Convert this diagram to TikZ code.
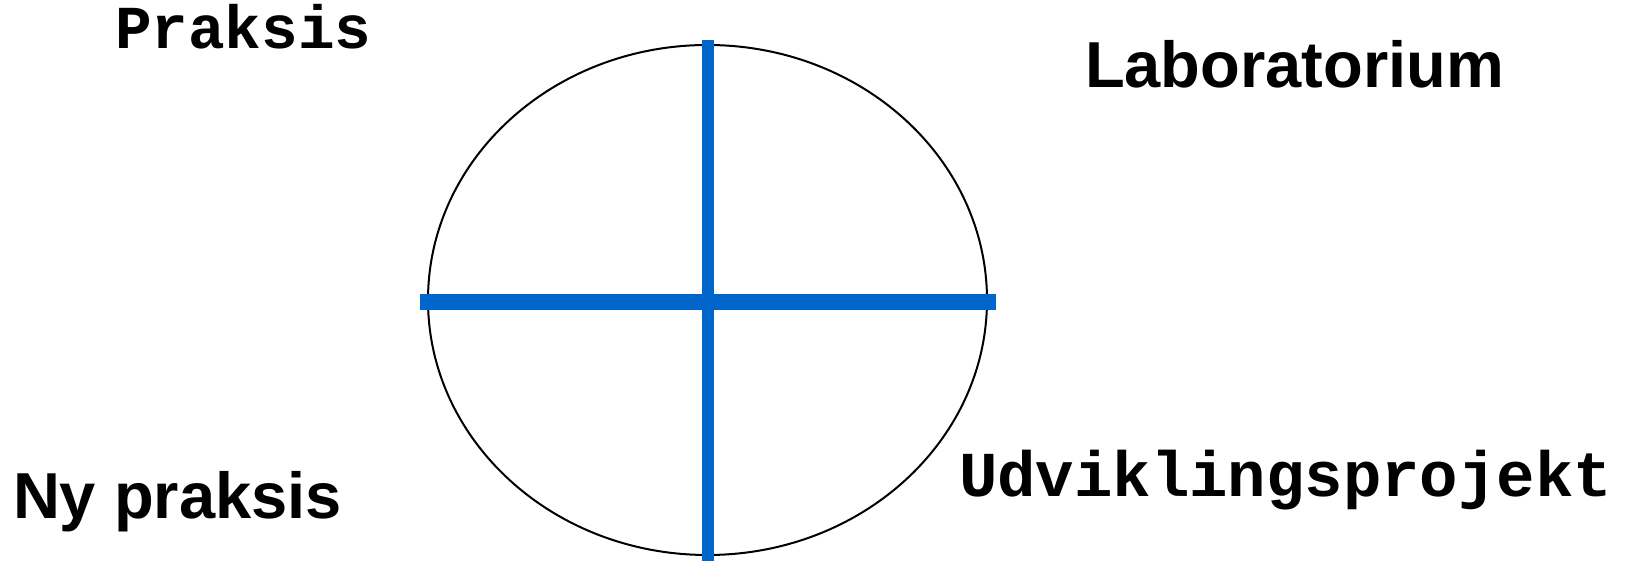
\documentclass[tikz,border=0pt]{standalone}
\usepackage{fontspec}
\setmainfont{Liberation Sans}
\setmonofont{Liberation Mono}
\definecolor{crossblue}{RGB}{0,102,204}
\tikzset{
  sanslabel/.style={anchor=base west, inner sep=0pt, outer sep=0pt, font=\fontsize{65}{70}\selectfont\bfseries},
  monolabel/.style={anchor=base west, inner sep=0pt, outer sep=0pt, font=\fontsize{64}{70}\selectfont\ttfamily\bfseries},
  crossline/.style={draw=crossblue},
}
\begin{document}
\begin{tikzpicture}[x=1pt,y=1pt]
\useasboundingbox (0,0) rectangle (1631,561);
\draw[line width=2pt] (707.5,261) ellipse [x radius=279.5, y radius=255];
\coordinate (vtop) at (708,521);
\coordinate (vbot) at (708,0);
\coordinate (hleft) at (420,259);
\coordinate (hright) at (996,259);
\draw[crossline, line width=16pt] (hleft) -- (hright);
\draw[crossline, line width=12pt] (vtop) -- (vbot);
\node[monolabel, font=\fontsize{61}{66}\selectfont\ttfamily\bfseries] (praksis) at (115,512) {Praksis};
\node[sanslabel] (lab) at (1085,473) {Laboratorium};
\node[sanslabel] (ny) at (13,42) {Ny praksis};
\node[monolabel] (udv) at (959,64) {Udviklingsprojekt};
\end{tikzpicture}
\end{document}
